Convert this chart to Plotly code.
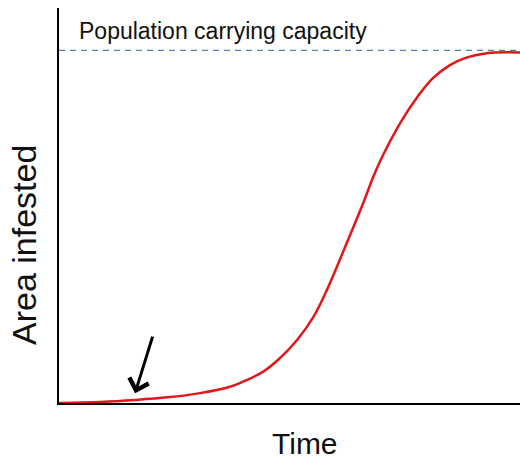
import plotly.graph_objects as go

# Time (0-100) and area infested (% of carrying capacity)
time = [0, 9, 16.5, 23.6, 30.6, 37.1, 40.7, 44.3, 47.9, 51.6, 55.2, 58.1, 62.4, 66.0, 68.2, 70.3,
        74.3, 77.7, 81.1, 84.8, 88.5, 92.8, 100]
area = [0, 0.3, 0.85, 1.6, 2.8, 4.6, 6.5, 8.9, 12.7, 17.8, 24.4, 32.0, 45.3, 56.7, 64.2, 70.3,
        80.0, 86.7, 92.1, 95.8, 98.0, 99.2, 99.4]
capacity = 100
capacity_label = "Population carrying capacity"
arrow_time, arrow_area = 16.5, 2.8

W, H = 520, 459
PL, PT, PR, PB = 59, 8, 520, 403  # plot edges in pixels
pw, ph = PR - PL, PB - PT

fig = go.Figure()
fig.add_trace(go.Scatter(x=[0, 100], y=[capacity, capacity], mode="lines",
                         line=dict(color="#5B7FA6", width=1.2, dash="6px,5px"),
                         hoverinfo="skip"))
fig.add_trace(go.Scatter(x=time, y=area, mode="lines",
                         line=dict(color="#E3161B", width=2.5, shape="spline", smoothing=1.0)))

fig.add_annotation(x=3.9, y=105.4, xref="x", yref="y", text=capacity_label,
                   showarrow=False, xanchor="left", yanchor="middle",
                   font=dict(family="Liberation Sans, Arial", size=23, color="#111"))
fig.add_annotation(x=arrow_time, y=arrow_area, xref="x", yref="y", text="",
                   showarrow=True, ax=18, ay=-58, arrowhead=4, arrowsize=1.3,
                   arrowwidth=3, arrowcolor="black")
fig.add_annotation(xref="paper", yref="paper",
                   x=(305 - PL) / pw, y=-(443 - PB) / ph,
                   xanchor="center", yanchor="middle", text="Time", showarrow=False,
                   font=dict(family="Liberation Sans, Arial", size=30, color="#111"))
fig.add_annotation(xref="paper", yref="paper", x=-(PL - 24) / pw, y=(PB - 245) / ph,
                   text="Area infested", textangle=-90, showarrow=False,
                   xanchor="center", yanchor="middle",
                   font=dict(family="Liberation Sans, Arial", size=34, color="#111"))

fig.update_layout(
    width=W, height=H, margin=dict(l=PL, r=W - PR, t=PT, b=H - PB),
    paper_bgcolor="white", plot_bgcolor="white", showlegend=False,
    xaxis=dict(range=[0, 100], showline=True, linecolor="black", linewidth=1.5,
               showgrid=False, zeroline=False, showticklabels=False, ticks=""),
    yaxis=dict(range=[0, 112], showline=True, linecolor="black", linewidth=1.5,
               showgrid=False, zeroline=False, showticklabels=False, ticks=""),
)

fig.write_html("out.html", config={"displayModeBar": False},
               post_script="document.body.style.margin='0';document.body.style.overflow='hidden';")
